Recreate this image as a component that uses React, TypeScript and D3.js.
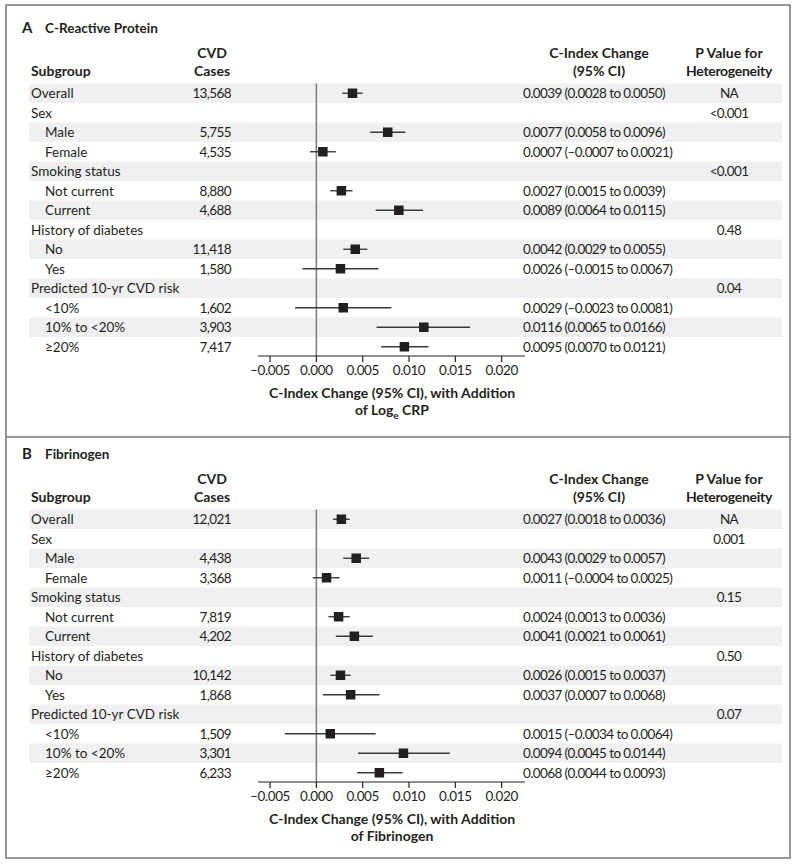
import React from "react";
import * as d3 from "d3";

const subgroups = [
  "Overall", "Sex", "Male", "Female", "Smoking status", "Not current", "Current",
  "History of diabetes", "No", "Yes", "Predicted 10-yr CVD risk", "<10%", "10% to <20%", "≥20%",
];
const levels = [0, 0, 1, 1, 0, 1, 1, 0, 1, 1, 0, 1, 1, 1];

const crpCases = ["13,568", "", "5,755", "4,535", "", "8,880", "4,688", "", "11,418", "1,580", "", "1,602", "3,903", "7,417"];
const crpEst = [0.0039, null, 0.0077, 0.0007, null, 0.0027, 0.0089, null, 0.0042, 0.0026, null, 0.0029, 0.0116, 0.0095];
const crpLo = [0.0028, null, 0.0058, -0.0007, null, 0.0015, 0.0064, null, 0.0029, -0.0015, null, -0.0023, 0.0065, 0.0070];
const crpHi = [0.0050, null, 0.0096, 0.0021, null, 0.0039, 0.0115, null, 0.0055, 0.0067, null, 0.0081, 0.0166, 0.0121];
const crpP = ["NA", "<0.001", "", "", "<0.001", "", "", "0.48", "", "", "0.04", "", "", ""];

const fibCases = ["12,021", "", "4,438", "3,368", "", "7,819", "4,202", "", "10,142", "1,868", "", "1,509", "3,301", "6,233"];
const fibEst = [0.0027, null, 0.0043, 0.0011, null, 0.0024, 0.0041, null, 0.0026, 0.0037, null, 0.0015, 0.0094, 0.0068];
const fibLo = [0.0018, null, 0.0029, -0.0004, null, 0.0013, 0.0021, null, 0.0015, 0.0007, null, -0.0034, 0.0045, 0.0044];
const fibHi = [0.0036, null, 0.0057, 0.0025, null, 0.0036, 0.0061, null, 0.0037, 0.0068, null, 0.0064, 0.0144, 0.0093];
const fibP = ["NA", "0.001", "", "", "0.15", "", "", "0.50", "", "", "0.07", "", "", ""];

const tickValues = [-0.005, 0, 0.005, 0.01, 0.015, 0.02];

const FONT = "Lato, 'Open Sans', sans-serif";
const TXT = "#231f20";

const fmt = (v: number, d: number) => (v < 0 ? "\u2013" + Math.abs(v).toFixed(d) : v.toFixed(d));

type PanelProps = {
  oy: number;
  letter: string;
  title: string;
  cases: string[];
  est: (number | null)[];
  lo: (number | null)[];
  hi: (number | null)[];
  pvals: string[];
  axisTitle2: React.ReactNode;
};

function Panel({ oy, letter, title, cases, est, lo, hi, pvals, axisTitle2 }: PanelProps) {
  const x = d3.scaleLinear().domain([-0.0063, 0.02252]).range([258, 525]);
  const rowTop = 83.5;
  const rowH = 19.5;
  const y = d3.scaleBand<number>().domain(d3.range(subgroups.length)).range([rowTop, rowTop + rowH * subgroups.length]);
  const axisY = 356;
  const box = 9.5;
  const fs = 13.5;
  return (
    <g transform={`translate(0,${oy})`} fontFamily={FONT} fill={TXT}>
      <text x={22} y={33} fontSize={15} fontWeight="bold">{letter}</text>
      <text x={45} y={33} fontSize={13.5} fontWeight="bold">{title}</text>
      {/* headers */}
      <g fontSize={14} fontWeight="bold">
        <text x={31} y={76}>Subgroup</text>
        <text x={212} y={58} textAnchor="middle">CVD</text>
        <text x={212} y={76} textAnchor="middle">Cases</text>
        <text x={599} y={58} textAnchor="middle">C-Index Change</text>
        <text x={599} y={76} textAnchor="middle">(95% CI)</text>
        <text x={729} y={58} textAnchor="middle">P Value for</text>
        <text x={729} y={76} textAnchor="middle" letterSpacing={-0.3}>Heterogeneity</text>
      </g>
      {/* shading */}
      {subgroups.map((_, i) =>
        i % 2 === 0 ? (
          <rect key={"s" + i} x={29} y={y(i)} width={753} height={y.bandwidth()} fill="#f0f0f2" />
        ) : null
      )}
      {/* zero line */}
      <line x1={x(0)} x2={x(0)} y1={rowTop} y2={axisY} stroke="#7a7a7a" strokeWidth={1.5} />
      {/* rows */}
      {subgroups.map((s, i) => {
        const cy = (y(i) as number) + y.bandwidth() / 2;
        const e = est[i], l = lo[i], h = hi[i];
        return (
          <g key={"r" + i} fontSize={fs}>
            <text x={levels[i] ? 45 : 31} y={cy + 5}>{s}</text>
            <text x={231} y={cy + 5} textAnchor="end" letterSpacing={-0.6}>{cases[i]}</text>
            {e !== null && l !== null && h !== null ? (
              <>
                <line x1={x(l)} x2={x(h)} y1={cy} y2={cy} stroke="#3a3a3a" strokeWidth={1.4} />
                <rect x={x(e) - box / 2} y={cy - box / 2} width={box} height={box} fill="#231f20" />
                <text x={523} y={cy + 5} letterSpacing={-0.6}>{`${fmt(e, 4)} (${fmt(l, 4)} to ${fmt(h, 4)})`}</text>
              </>
            ) : null}
            <text x={729} y={cy + 5} textAnchor="middle" letterSpacing={-0.6}>{pvals[i]}</text>
          </g>
        );
      })}
      {/* axis */}
      <line x1={258} x2={525} y1={axisY} y2={axisY} stroke="#231f20" strokeWidth={1.2} />
      {tickValues.map((t) => (
        <g key={"t" + t}>
          <line x1={x(t)} x2={x(t)} y1={axisY} y2={axisY + 6} stroke="#231f20" strokeWidth={1.2} />
          <text x={x(t)} y={axisY + 19} textAnchor="middle" fontSize={fs} letterSpacing={-0.4}>{fmt(t, 3)}</text>
        </g>
      ))}
      <text x={392} y={398} textAnchor="middle" fontSize={14} fontWeight="bold">C-Index Change (95% CI), with Addition</text>
      <text x={392} y={415} textAnchor="middle" fontSize={14} fontWeight="bold">{axisTitle2}</text>
    </g>
  );
}

export default function App() {
  return (
    <svg width={800} height={865} style={{ position: "absolute", left: 0, top: 0, background: "#fff" }}>
      <rect x={0} y={0} width={800} height={865} fill="#fff" />
      <rect x={6} y={5} width={784} height={853} fill="none" stroke="#777" strokeWidth={1.5} />
      <line x1={6} x2={790} y1={437} y2={437} stroke="#777" strokeWidth={1.5} />
      <Panel
        oy={0}
        letter="A"
        title="C-Reactive Protein"
        cases={crpCases}
        est={crpEst}
        lo={crpLo}
        hi={crpHi}
        pvals={crpP}
        axisTitle2={<>of Log<tspan fontSize={10} dy={4}>e</tspan><tspan dy={-4}> CRP</tspan></>}
      />
      <Panel
        oy={426}
        letter="B"
        title="Fibrinogen"
        cases={fibCases}
        est={fibEst}
        lo={fibLo}
        hi={fibHi}
        pvals={fibP}
        axisTitle2={<>of Fibrinogen</>}
      />
    </svg>
  );
}
